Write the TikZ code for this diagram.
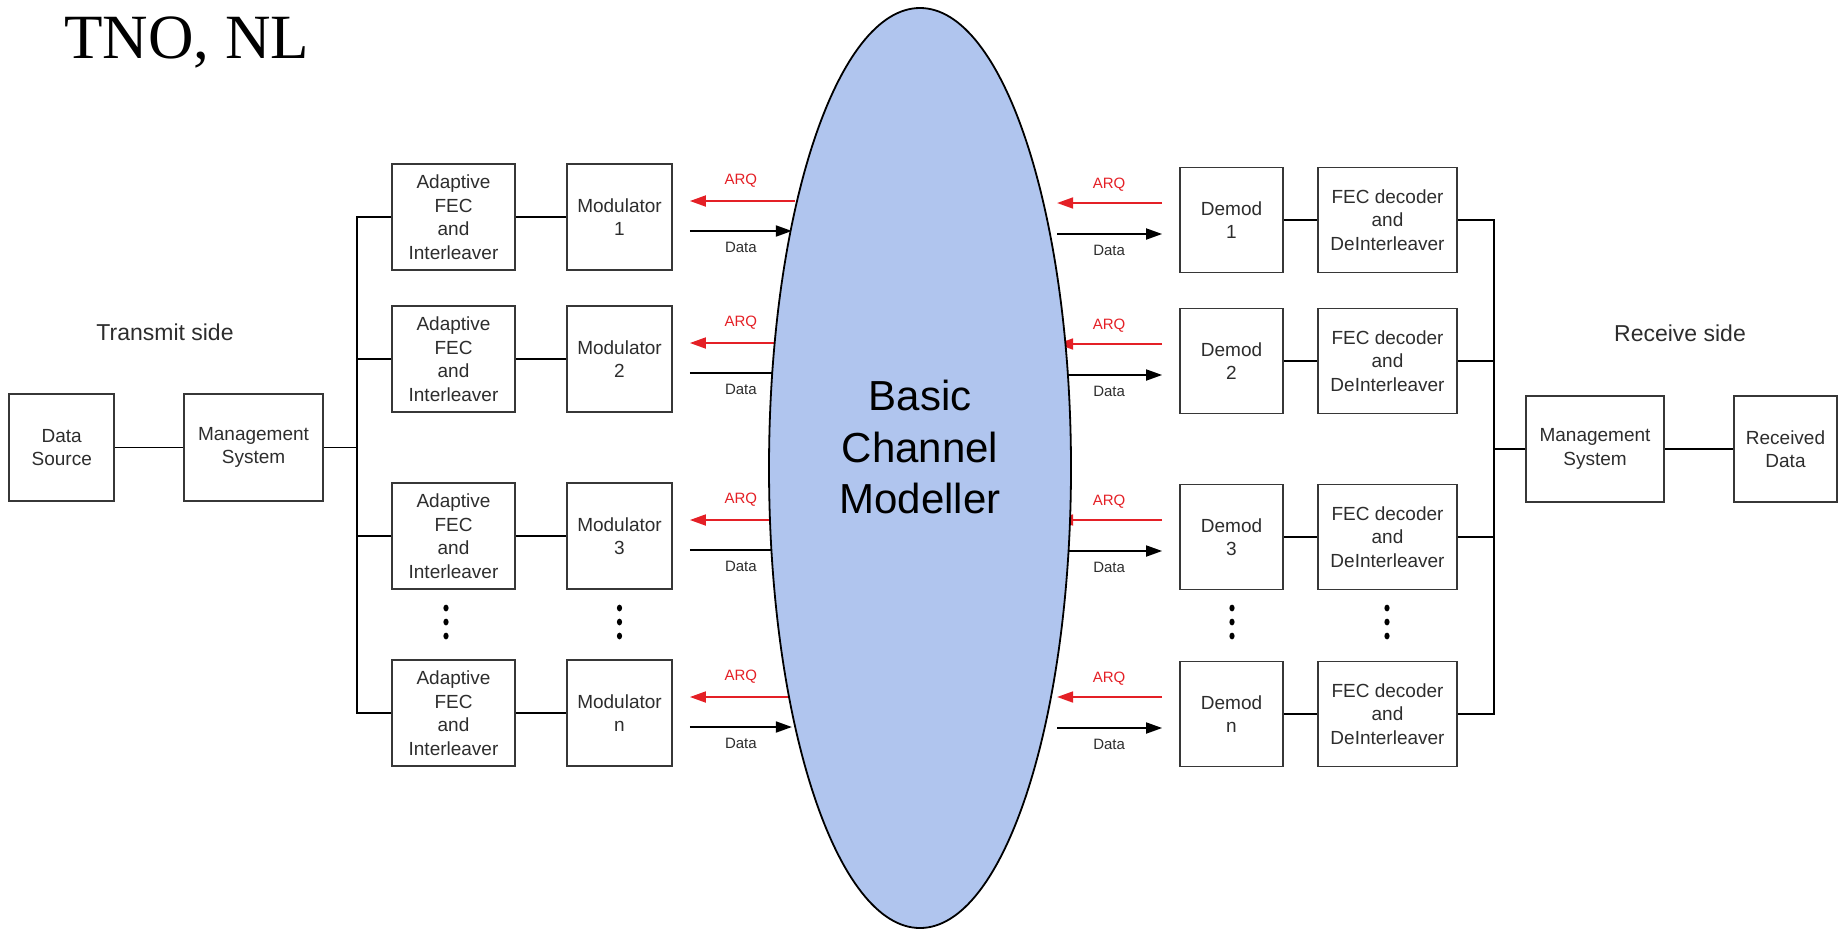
\documentclass[tikz,border=0pt]{standalone}
\usepackage{fontspec}
\setmainfont{Liberation Sans}
\newfontfamily\tnofont{Liberation Serif}
\usetikzlibrary{shapes.geometric,arrows.meta,calc}
\definecolor{chan}{RGB}{176,197,238}
\definecolor{arqred}{RGB}{228,32,38}
\definecolor{boxline}{RGB}{55,55,55}
\definecolor{boxtext}{RGB}{45,45,45}
\begin{document}
\begin{tikzpicture}[x=1pt,y=-1pt,
  blk/.style={draw=boxline, line width=1.8pt, align=center, inner sep=0pt,
    font=\fontsize{19}{23.5}\selectfont, text=boxtext},
  fecbox/.style={blk, minimum width=123pt, minimum height=106pt},
  modbox/.style={blk, minimum width=105pt, minimum height=106pt},
  dembox/.style={blk, minimum width=103pt, minimum height=105pt},
  decbox/.style={blk, minimum width=139pt, minimum height=105pt},
  wire/.style={line width=1.8pt, draw=black},
  arq/.style={draw=arqred, line width=1.8pt, -{Triangle[length=16pt,width=11pt]}},
  dat/.style={draw=black, line width=1.8pt, -{Triangle[length=16pt,width=11pt]}},
  lab/.style={font=\fontsize{15}{15}\selectfont, text=boxtext, inner sep=0pt},
  arqlab/.style={lab, text=arqred},
  side/.style={font=\fontsize{23}{23}\selectfont, text=boxtext, inner sep=0pt},
  dotmark/.style={fill=black}
]
\useasboundingbox (0,0) rectangle (1843,935);

% title
\node[font=\tnofont\fontsize{63}{63}\selectfont, anchor=base west, inner sep=0pt] (tno) at (64,58) {TNO, NL};

% side labels
\node[side] (tx) at (165,332) {Transmit side};
\node[side] (rx) at (1680,333) {Receive side};

% transmit side
\node[blk, minimum width=105pt, minimum height=107pt] (ds) at (61.75,447.5) {Data\\Source};
\node[blk, minimum width=139pt, minimum height=107pt] (mgL) at (253.5,447.5) {Management\\System};

\node[fecbox] (f1) at (453.5,217) {Adaptive\\FEC\\and\\Interleaver};
\node[fecbox] (f2) at (453.5,359) {Adaptive\\FEC\\and\\Interleaver};
\node[fecbox] (f3) at (453.5,536) {Adaptive\\FEC\\and\\Interleaver};
\node[fecbox] (fn) at (453.5,713) {Adaptive\\FEC\\and\\Interleaver};

\node[modbox] (m1) at (619.5,217) {Modulator\\1};
\node[modbox] (m2) at (619.5,359) {Modulator\\2};
\node[modbox] (m3) at (619.5,536) {Modulator\\3};
\node[modbox] (mn) at (619.5,713) {Modulator\\n};

\coordinate (busL) at (357,447.5);
\draw[wire] (ds) -- (mgL);
\draw[wire] (mgL) -- (mgL -| busL);
\draw[wire] (f1.west) -- (f1.west -| busL) -- (fn.west -| busL) -- (fn.west);
\draw[wire] (f2.west) -- (f2.west -| busL);
\draw[wire] (f3.west) -- (f3.west -| busL);
\foreach \i in {1,2,3,n}{
  \draw[wire] (f\i) -- (m\i);
}

% receive side
\node[dembox] (d1) at (1231.5,220) {Demod\\1};
\node[dembox] (d2) at (1231.5,361) {Demod\\2};
\node[dembox] (d3) at (1231.5,537) {Demod\\3};
\node[dembox] (dn) at (1231.5,714) {Demod\\n};

\node[decbox] (g1) at (1387.5,220) {FEC decoder\\and\\DeInterleaver};
\node[decbox] (g2) at (1387.5,361) {FEC decoder\\and\\DeInterleaver};
\node[decbox] (g3) at (1387.5,537) {FEC decoder\\and\\DeInterleaver};
\node[decbox] (gn) at (1387.5,714) {FEC decoder\\and\\DeInterleaver};

\node[blk, minimum width=138pt, minimum height=106pt] (mgR) at (1595,449) {Management\\System};
\node[blk, minimum width=103pt, minimum height=106pt] (rd) at (1785.5,449) {Received\\Data};

\coordinate (busR) at (1494,449);
\foreach \i in {1,2,3,n}{
  \draw[wire] (d\i) -- (g\i);
}
\draw[wire] (g1.east) -- (g1.east -| busR) -- (gn.east -| busR) -- (gn.east);
\draw[wire] (g2.east) -- (g2.east -| busR);
\draw[wire] (g3.east) -- (g3.east -| busR);
\draw[wire] (mgR) -- (mgR -| busR);
\draw[wire] (mgR) -- (rd);

% continuation dots
\foreach \x in {446,619.5,1232,1387}{
  \foreach \y in {608,622,636}{
    \fill[dotmark] (\x,\y) ellipse [x radius=2.6pt, y radius=3.4pt];
  }
}

% ARQ / Data arrows (drawn beneath the channel)
\foreach \i in {1,2,3,n}{
  \draw[arq] ($(m\i.east)+(122,-16)$) -- ($(m\i.east)+(17,-16)$);
  \draw[dat] ($(m\i.east)+(17,14)$) -- ($(m\i.east)+(119,14)$);
  \node[arqlab] (qa\i) at ($(m\i.east)+(68,-36)$) {ARQ};
  \node[lab] (da\i) at ($(m\i.east)+(68,30)$) {Data};
  \draw[arq] ($(d\i.west)+(-17,-17)$) -- ($(d\i.west)+(-122,-17)$);
  \draw[dat] ($(d\i.west)+(-122,14)$) -- ($(d\i.west)+(-17,14)$);
  \node[arqlab] (qb\i) at ($(d\i.west)+(-70,-35)$) {ARQ};
  \node[lab] (db\i) at ($(d\i.west)+(-70,30)$) {Data};
}

% channel
\node[ellipse, draw=black, line width=1.8pt, fill=chan, minimum width=302pt,
      minimum height=920pt, inner sep=0pt] (ch) at (920,468) {};
\node[font=\fontsize{42}{51.5}\selectfont, align=center, inner sep=0pt] (cht) at (920,447) {Basic\\Channel\\Modeller};
\end{tikzpicture}
\end{document}
